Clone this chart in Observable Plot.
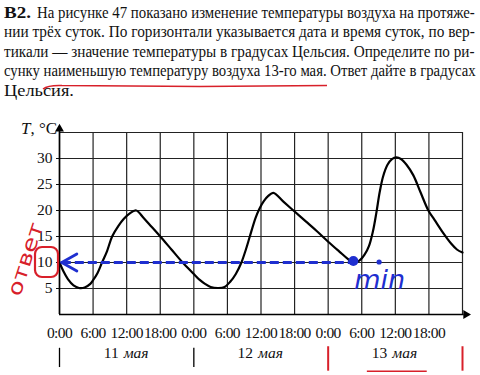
<!DOCTYPE html>
<html><head><meta charset="utf-8">
<script src="https://cdn.jsdelivr.net/npm/d3@7"></script>
<script src="https://cdn.jsdelivr.net/npm/@observablehq/plot@0.6"></script>
<style>
html,body{margin:0;padding:0;background:#fff;}
#chart{position:relative;width:480px;height:375px;overflow:hidden;}
g[aria-label="x-axis tick label"] text{letter-spacing:-0.6px;}
</style></head><body><div id="chart"></div>
<script>
// ---- text ----
const problemNumber = "В2.";
const problemLines = [
  "На рисунке 47 показано изменение температуры воздуха на протяже-",
  "нии трёх суток. По горизонтали указывается дата и время суток, по вер-",
  "тикали — значение температуры в градусах Цельсия. Определите по ри-",
  "сунку наименьшую температуру воздуха 13-го мая. Ответ дайте в градусах",
  "Цельсия."
];
const lineStarts = [37, 4, 4, 4, 4];
const lineWidths = [438, 471, 471, 472, 70];
const yAxisLabel = ["T", ", °C"];
const answerWord = "ответ";
const minWord = "min";

// ---- data ----
const hours = [0, 0.7, 1.5, 2.5, 3.5, 4.5, 5.5, 6, 6.8, 7.6, 8.5, 9.4, 10.5, 11.5, 12.5, 13.7,
  15, 16, 18, 20, 22, 24, 25, 26, 27, 28.4, 29.5, 30.5, 31.5, 32.5, 33.3, 34, 35, 35.7, 36.5, 37.3, 38.2,
  40, 42, 44, 46, 48, 50, 51.5, 52.5, 53.5, 54.5, 55.3, 56, 56.6, 57.2, 57.8, 58.6, 59.4, 60.2,
  61, 62, 63.2, 64.5, 65.9, 67, 68.6, 70, 71, 72];
const temps = [10, 8.3, 6.8, 5.6, 5.1, 5.2, 5.9, 6.6, 8.0, 10, 12.2, 15, 17, 18.4, 19.4, 20,
  18.6, 17.4, 15, 12.5, 10, 7.8, 6.7, 5.9, 5.3, 5.1, 5.3, 6.3, 7.8, 10, 12.5, 15, 18.5, 20.3, 21.8, 22.8, 23.4,
  21.7, 19.8, 17.9, 16.0, 14.0, 12.1, 10.7, 10.0, 10.3, 11.5, 13.2, 16, 19.5, 23.5, 26.5, 28.8, 29.9, 30.2,
  29.9, 28.8, 26.8, 23.5, 20, 18.2, 15.6, 13.6, 12.5, 11.9];

// ---- ticks / grid ----
const xTickValues = [0, 6, 12, 18, 24, 30, 36, 42, 48, 54, 60, 66];
const timeLabels = ["0:00", "6:00", "12:00", "18:00"];
const xGrid = [0, 6, 12, 18, 24, 30, 36, 42, 48, 54, 60, 66, 72];
const yTickValues = [5, 10, 15, 20, 25, 30];
const yGrid = [5, 10, 15, 20, 25, 30, 35];
const dayCenters = [12, 36, 60];
const dayNumbers = ["11", "12", "13"];
const dayWord = "мая";
const daySeparators = [0, 24];
const markedSeparators = [48, 72];
const answerValue = 10;
const minHour = 52.5;
const arrowWings = [1.65, -1.65];

const blue = "#1f2fd0";
const red = "#d8202a";
const data = hours.map((h, i) => ({h, t: temps[i]}));

const plot = Plot.plot({
  width: 480, height: 375,
  marginLeft: 59, marginRight: 18, marginTop: 132, marginBottom: 61,
  style: {fontFamily: '"Liberation Serif", serif', fontSize: "15.5px", color: "#111", background: "transparent", overflow: "visible"},
  x: {domain: [0, 72], ticks: xTickValues, tickFormat: d => timeLabels[(d / 6) % 4], tickSize: 0, tickPadding: 12, label: null},
  y: {domain: [0, 35], ticks: yTickValues, tickSize: 3, tickPadding: 4, label: null},
  marks: [
    Plot.ruleX(xGrid, {y1: 0, y2: 35, stroke: "#222", strokeWidth: 1.2}),
    Plot.ruleY(yGrid, {x1: 0, x2: 72, stroke: "#222", strokeWidth: 1.2}),
    Plot.ruleX([0], {y1: 0, y2: 35.4, stroke: "#000", strokeWidth: 1.6}),
    Plot.ruleY([0], {x1: 0, x2: 72.3, stroke: "#000", strokeWidth: 1.6}),
    Plot.dot([0], {x: 0, y: 35.7, symbol: "triangle", r: 3.3, fill: "#000", stroke: null}),
    Plot.dot([0], {x: 72.6, y: 0, symbol: "triangle", r: 3.3, rotate: 90, fill: "#000", stroke: null}),
    Plot.line(data, {x: "h", y: "t", curve: "catmull-rom", stroke: "#000", strokeWidth: 2.2}),
    // answer annotations
    Plot.ruleY([answerValue], {x1: 0.5, x2: minHour, stroke: blue, strokeWidth: 3, strokeDasharray: "9,4"}),
    Plot.link(arrowWings, {x1: 0.4, y1: answerValue, x2: 3.1, y2: d => answerValue + d, stroke: blue, strokeWidth: 2.8, strokeLinecap: "round"}),
    Plot.dot([minHour], {x: d => d, y: 10.3, r: 5, fill: blue, stroke: null}),
    Plot.dot([minHour + 4.6], {x: d => d, y: 10.1, r: 2.6, fill: blue, stroke: null}),
    Plot.text([minWord], {x: 57.2, y: 6.6, text: d => d, fill: blue, fontSize: 27, fontFamily: '"DejaVu Sans", sans-serif', fontStyle: "italic"}),
    // day labels
    Plot.text(dayCenters, {x: d => d, text: (d, i) => dayNumbers[i], frameAnchor: "bottom", textAnchor: "end", dx: -8, dy: 43, fontSize: 15.5, fill: "#111"}),
    Plot.text(dayCenters, {x: d => d, text: () => dayWord, frameAnchor: "bottom", textAnchor: "start", dx: -3, dy: 43, fontSize: 15.5, fontStyle: "italic", fill: "#111"}),
    Plot.ruleX(daySeparators, {y1: -6.5, y2: -10.2, stroke: "#000", strokeWidth: 1.3}),
    Plot.ruleX(markedSeparators, {y1: -6.2, y2: -10.9, stroke: red, strokeWidth: 2}),
    Plot.ruleY([-10.9], {x1: 55, x2: 65.7, stroke: red, strokeWidth: 1.5})
  ]
});

document.getElementById("chart").appendChild(plot);
const svg = d3.select(plot);

// problem text: each line condensed horizontally to its measured width
const baselines = [17.5, 37, 56.5, 76, 95.5];
function condensedLine(str, x, y, w, bold) {
  const t = svg.append("text")
    .attr("x", 0).attr("y", 0)
    .attr("text-anchor", "start")
    .attr("font-family", '"Liberation Serif", serif')
    .attr("font-size", 17.5).attr("fill", "#111")
    .attr("font-weight", bold ? "bold" : null)
    .text(str);
  const natural = t.node().getComputedTextLength();
  t.attr("transform", `translate(${x},${y}) scale(${w / natural},1)`);
}
condensedLine(problemNumber, 4, baselines[0], 27, true);
problemLines.forEach((s, i) => condensedLine(s, lineStarts[i], baselines[i], lineWidths[i], false));

// red underline under text
svg.append("path")
  .attr("d", "M43,89 Q48,85 62,85.5 L200,86.5 L327,85.5")
  .attr("fill", "none").attr("stroke", red).attr("stroke-width", 1.5);

// y axis label
const yl = svg.append("text").attr("x", 21).attr("y", 134).attr("text-anchor", "start")
  .attr("font-family", '"Liberation Serif", serif').attr("font-size", 17).attr("fill", "#111");
yl.append("tspan").attr("font-style", "italic").text(yAxisLabel[0]);
yl.append("tspan").text(yAxisLabel[1]);

// red rounded box around 10
svg.append("rect").attr("x", 35).attr("y", 247).attr("width", 23).attr("height", 30).attr("rx", 7)
  .attr("fill", "none").attr("stroke", red).attr("stroke-width", 2.2);
// red "ответ"
const ans = svg.append("text").attr("x", 0).attr("y", 0)
  .attr("text-anchor", "middle").attr("dy", "0.35em")
  .attr("font-family", '"DejaVu Sans", sans-serif').attr("font-size", 20)
  .attr("fill", red).text(answerWord);
const ansW = ans.node().getComputedTextLength();
ans.attr("transform", `translate(25,259) rotate(-72) scale(${76 / ansW},1)`);
</script></body></html>
